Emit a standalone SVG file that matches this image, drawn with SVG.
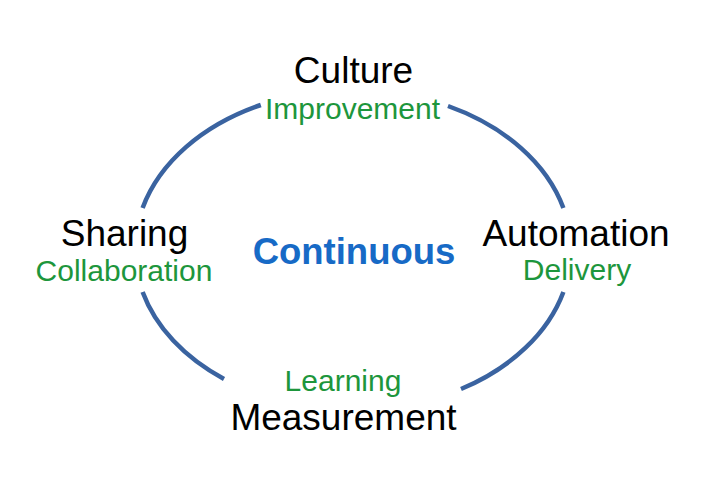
<svg xmlns="http://www.w3.org/2000/svg" width="707" height="500" viewBox="0 0 707 500">
<style>
text{font-family:"Liberation Sans",Arial,sans-serif;text-anchor:middle}
.main{font-size:37px;fill:#000}
.sub{font-size:30px;fill:#1d963c}
.center{font-size:36.5px;font-weight:bold;fill:#176ac6}
.arc{fill:none;stroke:#3a63a0;stroke-width:4.5}
</style>
<rect width="707" height="500" fill="#fff"/>
<g id="connectors">
<path class="arc" d="M142.6,208 A218,160 0 0 1 260.8,105"/>
<path class="arc" d="M448,106 A218,160 0 0 1 563.4,208"/>
<path class="arc" d="M563.4,292 A218,160 0 0 1 461,389"/>
<path class="arc" d="M224,379 A218,160 0 0 1 142.6,292"/>
</g>
<g id="culture">
<text class="main" x="353.5" y="83">Culture</text>
<text class="sub" x="352.5" y="119">Improvement</text>
</g>
<g id="sharing">
<text class="main" x="124.5" y="246">Sharing</text>
<text class="sub" x="124" y="281">Collaboration</text>
</g>
<g id="continuous">
<text class="center" x="354" y="263.5">Continuous</text>
</g>
<g id="automation">
<text class="main" x="576" y="246">Automation</text>
<text class="sub" x="577" y="280">Delivery</text>
</g>
<g id="measurement">
<text class="sub" x="343" y="390.5">Learning</text>
<text class="main" x="343.5" y="429.5">Measurement</text>
</g>
</svg>
